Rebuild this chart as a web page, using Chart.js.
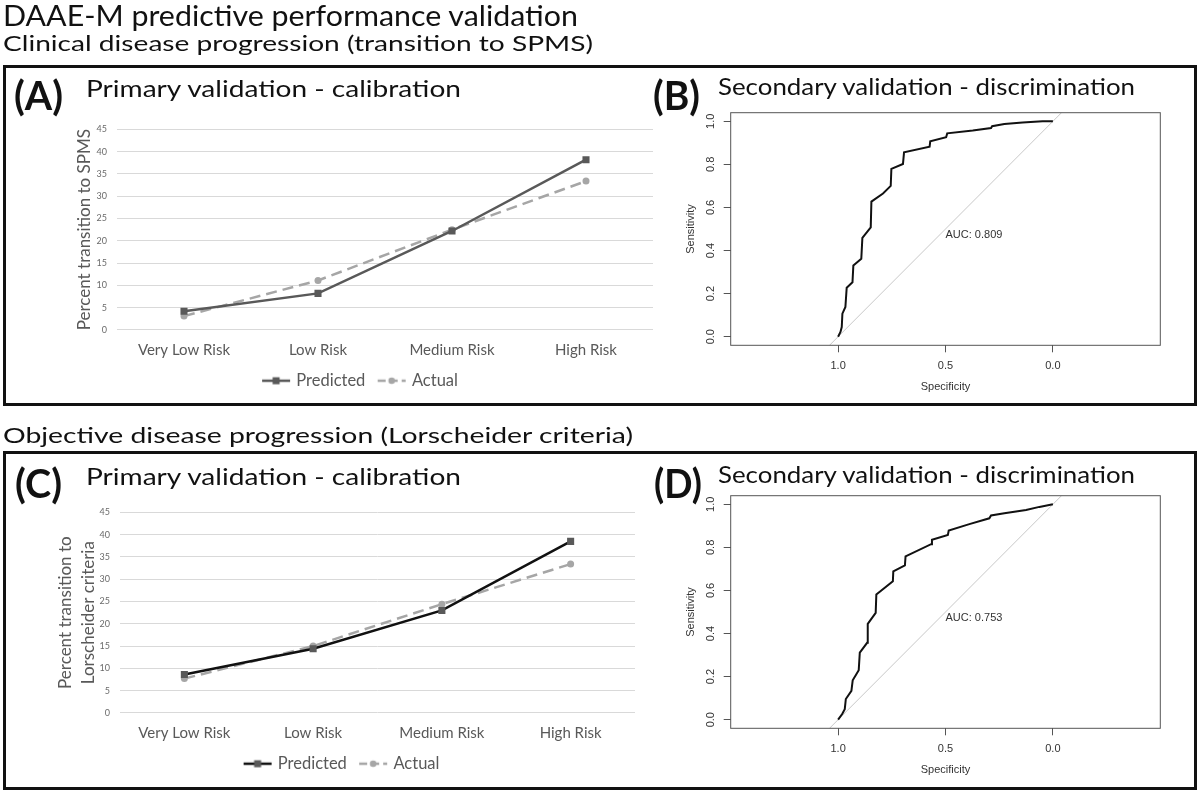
<!DOCTYPE html>
<html>
<head>
<meta charset="utf-8">
<script src="https://cdn.jsdelivr.net/npm/chart.js@4.4.0/dist/chart.umd.min.js"></script>
<style>
  html, body { margin: 0; padding: 0; background: #fff; }
  #page { position: relative; width: 1200px; height: 796px; overflow: hidden; }
  .frame { position: absolute; border: 3px solid #111; box-sizing: border-box; }
  .chartbox { position: absolute; }
  svg.heads { position: absolute; left: 0; top: 0; pointer-events: none; }
</style>
</head>
<body>
<div id="page">
  <div class="frame" style="left:3px;top:65px;width:1194px;height:341px"></div>
  <div class="frame" style="left:3px;top:451px;width:1194px;height:339px"></div>

  <div class="chartbox" style="left:69px;top:114px;width:591px;height:285px"><canvas id="calA"></canvas></div>
  <div class="chartbox" style="left:680px;top:100px;width:490px;height:300px"><canvas id="rocB"></canvas></div>
  <div class="chartbox" style="left:50px;top:497px;width:592px;height:285px"><canvas id="calC"></canvas></div>
  <div class="chartbox" style="left:680px;top:483px;width:490px;height:300px"><canvas id="rocD"></canvas></div>

  <svg class="heads" width="1200" height="796" font-family="Lato, sans-serif" fill="#111">
    <text x="3" y="26" font-size="28" textLength="575" lengthAdjust="spacingAndGlyphs">DAAE-M predictive performance validation</text>
    <text x="3" y="51" font-size="22" textLength="590" lengthAdjust="spacingAndGlyphs">Clinical disease progression (transition to SPMS)</text>
    <text x="14" y="110" font-size="40" font-weight="bold" textLength="49" lengthAdjust="spacingAndGlyphs">(A)</text>
    <text x="86" y="96.7" font-size="24" textLength="375" lengthAdjust="spacingAndGlyphs">Primary validation - calibration</text>
    <text x="653" y="110" font-size="40" font-weight="bold" textLength="47" lengthAdjust="spacingAndGlyphs">(B)</text>
    <text x="718" y="95" font-size="24" textLength="417" lengthAdjust="spacingAndGlyphs">Secondary validation - discrimination</text>
    <text x="3" y="443.3" font-size="22" textLength="630" lengthAdjust="spacingAndGlyphs">Objective disease progression (Lorscheider criteria)</text>
    <text x="15" y="498" font-size="40" font-weight="bold" textLength="47" lengthAdjust="spacingAndGlyphs">(C)</text>
    <text x="86" y="485" font-size="24" textLength="375" lengthAdjust="spacingAndGlyphs">Primary validation - calibration</text>
    <text x="654" y="498" font-size="40" font-weight="bold" textLength="48" lengthAdjust="spacingAndGlyphs">(D)</text>
    <text x="718" y="483.3" font-size="24" textLength="417" lengthAdjust="spacingAndGlyphs">Secondary validation - discrimination</text>
  </svg>
</div>

<script>
// calibration panels (A, C)
const riskLabels = ['Very Low Risk', 'Low Risk', 'Medium Risk', 'High Risk'];
const spmsPredicted = [4.2, 8.2, 22.2, 38.2];
const spmsActual = [3.1, 11.1, 22.5, 33.4];
const lorPredicted = [8.6, 14.4, 23.0, 38.5];
const lorActual = [7.7, 15.0, 24.4, 33.4];

// ROC panels (B, D) - specificity / sensitivity pairs
const rocSpecB = [1.000, 0.989, 0.983, 0.980, 0.966, 0.960, 0.933, 0.929, 0.892, 0.887, 0.848, 0.845, 0.791, 0.755, 0.752, 0.698, 0.693, 0.574, 0.571, 0.497, 0.492, 0.373, 0.288, 0.283, 0.226, 0.141, 0.048, 0.000];
const rocSensB = [0.000, 0.022, 0.045, 0.107, 0.138, 0.227, 0.253, 0.331, 0.362, 0.459, 0.508, 0.627, 0.665, 0.700, 0.779, 0.802, 0.856, 0.882, 0.907, 0.926, 0.944, 0.957, 0.969, 0.977, 0.988, 0.994, 1.000, 1.000];
const rocSpecD = [1.000, 0.981, 0.969, 0.964, 0.938, 0.932, 0.904, 0.899, 0.865, 0.862, 0.825, 0.822, 0.745, 0.743, 0.689, 0.686, 0.567, 0.563, 0.489, 0.485, 0.389, 0.296, 0.288, 0.226, 0.125, 0.063, 0.000];
const rocSensD = [0.000, 0.026, 0.049, 0.096, 0.134, 0.183, 0.230, 0.311, 0.357, 0.445, 0.496, 0.581, 0.643, 0.689, 0.716, 0.758, 0.815, 0.835, 0.858, 0.878, 0.908, 0.935, 0.948, 0.958, 0.974, 0.988, 1.000];
const aucB = 0.809;
const aucD = 0.753;

// chance line sens = 1 - spec, clipped by the plot box
const refSpec = [1.5, -0.5];
const refSens = [-0.5, 1.5];
const specTicks = [1.0, 0.5, 0.0];
const sensTicks = [0.0, 0.2, 0.4, 0.6, 0.8, 1.0];

Chart.defaults.font.family = 'Lato, sans-serif';
Chart.defaults.animation = false;

// legend swatch: short line with the marker in the middle, like excel
function legendIcon(line, dash, style, fill) {
  const c = document.createElement('canvas');
  c.width = 32; c.height = 12;
  const g = c.getContext('2d');
  g.strokeStyle = line; g.lineWidth = 2.5; g.setLineDash(dash);
  g.beginPath(); g.moveTo(2, 6); g.lineTo(30, 6); g.stroke();
  g.fillStyle = fill;
  if (style === 'rect') {
    g.fillRect(12.5, 2.5, 7, 7);
  } else {
    g.beginPath(); g.arc(16, 6, 3.3, 0, Math.PI * 2); g.fill();
  }
  return c;
}

function calibrationChart(id, yTitle, predicted, actual, predLine, yWidth) {
  const icons = [legendIcon(predLine, [], 'rect', '#595959'), legendIcon('#a6a6a6', [8, 4], 'circle', '#a6a6a6')];
  return new Chart(document.getElementById(id), {
    type: 'line',
    data: {
      labels: riskLabels,
      datasets: [{
        label: 'Predicted',
        data: predicted,
        borderColor: predLine,
        borderWidth: 2.5,
        pointStyle: 'rect',
        pointRadius: 5,
        pointBackgroundColor: '#595959',
        pointBorderColor: '#595959',
        pointBorderWidth: 0
      }, {
        label: 'Actual',
        data: actual,
        borderColor: '#a6a6a6',
        borderWidth: 2.5,
        borderDash: [11, 6],
        pointStyle: 'circle',
        pointRadius: 3.5,
        pointBackgroundColor: '#a6a6a6',
        pointBorderColor: '#a6a6a6',
        pointBorderWidth: 0
      }]
    },
    options: {
      responsive: true,
      maintainAspectRatio: false,
      layout: { padding: { top: 10.3, right: 7, left: 0, bottom: 0 } },
      plugins: {
        tooltip: { enabled: false },
        legend: {
          position: 'bottom',
          labels: {
            usePointStyle: true,
            pointStyleWidth: 24,
            padding: 14.3,
            color: '#595959',
            font: { size: 16.5 },
            generateLabels: chart => Chart.defaults.plugins.legend.labels.generateLabels(chart)
              .map((item, i) => Object.assign(item, { pointStyle: icons[i] }))
          }
        }
      },
      scales: {
        x: {
          offset: true,
          afterFit: s => { s.height = 28.3; },
          grid: { display: false, drawTicks: false },
          border: { display: false },
          ticks: { color: '#595959', font: { size: 15 }, padding: 11 }
        },
        y: {
          min: 0,
          max: 45,
          afterFit: s => { s.width = yWidth; },
          ticks: { stepSize: 5, color: '#6b6b6b', font: { size: 9 }, padding: 10 },
          grid: { color: '#d9d9d9', drawTicks: false },
          border: { display: false },
          title: {
            display: true,
            text: yTitle,
            color: '#595959',
            font: { size: 17, lineHeight: 1.335 },
            padding: { top: 4, bottom: 4 }
          }
        }
      }
    }
  });
}

// R-style box around the plot + the AUC note
const rocExtras = {
  id: 'rocExtras',
  afterDatasetsDraw(chart, args, opts) {
    const { ctx, chartArea: a, scales: { x, y } } = chart;
    ctx.save();
    ctx.strokeStyle = '#555';
    ctx.lineWidth = 1;
    ctx.strokeRect(a.left, a.top, a.right - a.left, a.bottom - a.top);
    ctx.fillStyle = '#333';
    ctx.font = '11px "Liberation Sans", Arial, sans-serif';
    ctx.textAlign = 'left';
    ctx.textBaseline = 'top';
    ctx.fillText('AUC: ' + opts.auc.toFixed(3), x.getPixelForValue(0.5), y.getPixelForValue(0.5));
    ctx.restore();
  }
};

function rocChart(id, spec, sens, auc) {
  const rFont = { family: '"Liberation Sans", Arial, sans-serif', size: 11 };
  return new Chart(document.getElementById(id), {
    type: 'scatter',
    data: {
      datasets: [{
        data: spec.map((s, i) => ({ x: s, y: sens[i] })),
        showLine: true,
        borderColor: '#111',
        borderWidth: 2,
        pointRadius: 0,
        tension: 0
      }, {
        data: refSpec.map((s, i) => ({ x: s, y: refSens[i] })),
        showLine: true,
        borderColor: '#c8c8c8',
        borderWidth: 1,
        pointRadius: 0
      }]
    },
    options: {
      responsive: true,
      maintainAspectRatio: false,
      layout: { padding: { top: 12.7, right: 9.7, left: 0, bottom: 2.7 } },
      plugins: {
        legend: { display: false },
        tooltip: { enabled: false },
        rocExtras: { auc: auc }
      },
      scales: {
        x: {
          type: 'linear',
          reverse: true,
          min: -0.5,
          max: 1.5,
          afterBuildTicks: s => { s.ticks = specTicks.map(v => ({ value: v })); },
          afterFit: s => { s.height = 52; },
          ticks: { callback: v => Number(v).toFixed(1), color: '#333', font: rFont, padding: 7 },
          grid: { drawOnChartArea: false, tickLength: 7, color: '#555' },
          border: { display: false },
          title: { display: true, text: 'Specificity', color: '#333', font: rFont, padding: { top: 4, bottom: 4 } }
        },
        y: {
          min: -0.04,
          max: 1.04,
          afterBuildTicks: s => { s.ticks = sensTicks.map(v => ({ value: v })); },
          afterFit: s => { s.width = 50.7; },
          ticks: { callback: v => Number(v).toFixed(1), color: '#333', font: rFont, padding: 5, minRotation: 90, maxRotation: 90, crossAlign: 'center' },
          grid: { drawOnChartArea: false, tickLength: 7, color: '#555' },
          border: { display: false },
          title: { display: true, text: 'Sensitivity', color: '#333', font: rFont, padding: { top: 4, bottom: 4 } }
        }
      }
    },
    plugins: [rocExtras]
  });
}

calibrationChart('calA', 'Percent transition to SPMS', spmsPredicted, spmsActual, '#595959', 48);
rocChart('rocB', rocSpecB, rocSensB, aucB);
calibrationChart('calC', ['Percent transition to', 'Lorscheider criteria'], lorPredicted, lorActual, '#111', 70);
rocChart('rocD', rocSpecD, rocSensD, aucD);
</script>
</body>
</html>
